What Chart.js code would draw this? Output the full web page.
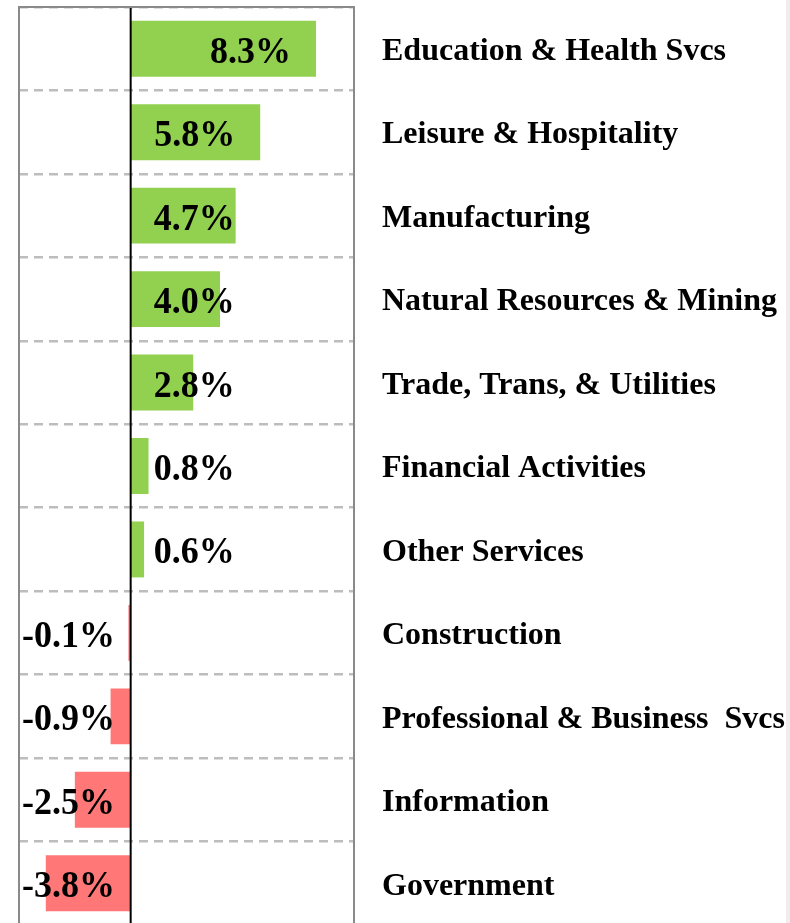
<!DOCTYPE html>
<html>
<head>
<meta charset="utf-8">
<script src="https://cdn.jsdelivr.net/npm/chart.js@4"></script>
<style>
  html, body { margin: 0; padding: 0; background: #fff; overflow: hidden; }
  #wrap { position: relative; width: 790px; height: 923px; overflow: hidden; }
  #strip { position: absolute; left: 786px; top: 0; width: 4px; height: 923px; background: #EEEEEE; }
</style>
</head>
<body>
<div id="wrap">
  <canvas id="c" width="790" height="930"></canvas>
  <div id="strip"></div>
</div>
<script>
const categories = [
  "Education & Health Svcs",
  "Leisure & Hospitality",
  "Manufacturing",
  "Natural Resources & Mining",
  "Trade, Trans, & Utilities",
  "Financial Activities",
  "Other Services",
  "Construction",
  "Professional & Business  Svcs",
  "Information",
  "Government"
];
const growthPct = [8.3, 5.8, 4.7, 4.0, 2.8, 0.8, 0.6, -0.1, -0.9, -2.5, -3.8];
const xMin = -5;
const xMax = 10;

const POS_COLOR = '#92D050';
const NEG_COLOR = '#FF7777';

const overlayPlugin = {
  id: 'overlay',
  afterDatasetsDraw(chart) {
    const ctx = chart.ctx;
    const area = chart.chartArea;
    const xs = chart.scales.x;
    const zeroX = xs.getPixelForValue(0);
    const meta = chart.getDatasetMeta(0);
    // value labels (slightly stretched vertically like the original)
    const sy = 1.08;
    meta.data.forEach((bar, i) => {
      const v = growthPct[i];
      const txt = v.toFixed(1) + '%';
      ctx.save();
      ctx.fillStyle = '#000';
      ctx.font = 'bold 36px "Liberation Serif", "Times New Roman", serif';
      ctx.textBaseline = 'middle';
      let x;
      if (v >= 0) {
        ctx.textAlign = 'right';
        x = Math.max(zeroX + 104, bar.x - 25);
      } else {
        ctx.textAlign = 'left';
        x = area.left + 3;
      }
      ctx.translate(x, bar.y + 4);
      ctx.scale(1, sy);
      ctx.fillText(txt, 0, 0);
      ctx.restore();
    });
    // zero line
    ctx.save();
    ctx.strokeStyle = '#000';
    ctx.lineWidth = 2;
    ctx.beginPath();
    ctx.moveTo(zeroX, area.top);
    ctx.lineTo(zeroX, chart.height);
    ctx.stroke();
    // box border (left, top, right)
    ctx.strokeStyle = '#8A8A8A';
    ctx.lineWidth = 2;
    ctx.beginPath();
    ctx.moveTo(area.left, chart.height);
    ctx.lineTo(area.left, area.top);
    ctx.lineTo(area.right, area.top);
    ctx.lineTo(area.right, chart.height);
    ctx.stroke();
    ctx.restore();
  }
};

new Chart(document.getElementById('c'), {
  type: 'bar',
  data: {
    labels: categories,
    datasets: [{
      data: growthPct,
      backgroundColor: growthPct.map(v => v >= 0 ? POS_COLOR : NEG_COLOR),
      borderWidth: 0,
      barPercentage: 0.67,
      categoryPercentage: 1.0
    }]
  },
  options: {
    indexAxis: 'y',
    responsive: false,
    animation: false,
    layout: { padding: { left: 19, top: 7, right: 0, bottom: 5 } },
    plugins: { legend: { display: false }, tooltip: { enabled: false } },
    scales: {
      x: {
        display: false,
        min: xMin,
        max: xMax
      },
      y: {
        position: 'right',
        offset: true,
        afterFit(scale) {
          scale.width = 436;
          scale.paddingTop = 0;
          scale.paddingBottom = 0;
        },
        border: { display: false, dash: [9, 6] },
        grid: {
          offset: true,
          drawTicks: false,
          color: '#BDBDBD',
          lineWidth: 2.5,
          borderDash: [9, 6]
        },
        ticks: {
          padding: 28,
          labelOffset: 3,
          color: '#000',
          font: { family: '"Liberation Serif", "Times New Roman", serif', size: 32, weight: 'bold' }
        }
      }
    }
  },
  plugins: [overlayPlugin]
});
</script>
</body>
</html>
